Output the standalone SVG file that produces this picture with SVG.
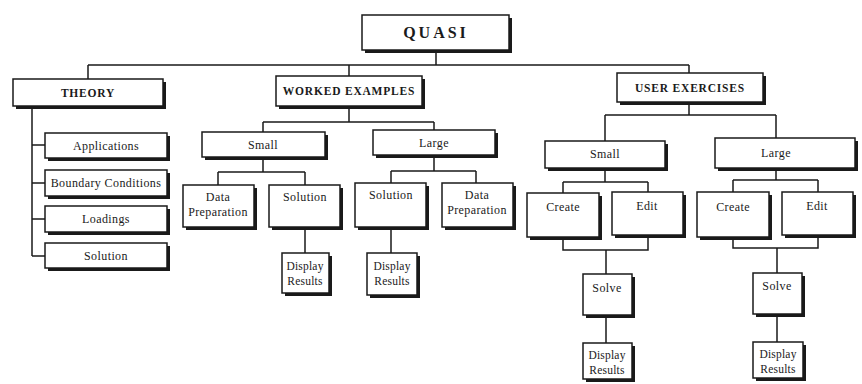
<svg xmlns="http://www.w3.org/2000/svg" width="862" height="384" viewBox="0 0 862 384">
<style>
.sh{fill:#1a1a1a}
.bx{fill:#fff;stroke:#1a1a1a;stroke-width:1.5}
.ln{fill:none;stroke:#1a1a1a;stroke-width:1.5}
text{font-family:"Liberation Serif","Times New Roman",serif;fill:#1a1a1a;text-anchor:middle}
.h{font-weight:bold;font-size:11.5px;letter-spacing:0.8px}
.t{font-size:12px;letter-spacing:0.4px}
.s{font-size:11.5px;letter-spacing:0.2px}
</style>
<rect width="862" height="384" fill="#fff"/>
<g id="connectors" class="ln">
<path d="M436 50V65M88 65H689M88 65V79M349 65V76M689 65V73"/>
<path d="M32 106V256M32 145H45M32 183H45M32 219H45M32 256H45"/>
<path d="M349 106V122M263 122H434M263 122V132M434 122V130"/>
<path d="M263 157V172M218 172H305M218 172V185M305 172V185M305 227V253"/>
<path d="M434 155V171M391 171H476M391 171V183M476 171V183M391 227V253"/>
<path d="M689 102V115M605 115H776M605 115V141M776 115V138"/>
<path d="M605 168V182M563 182H648M563 182V193M648 182V192M563 237V250H648V235M606 250V274M606 315V343"/>
<path d="M776 168V180M733 180H818M733 180V192M818 180V192M733 237V248H818V235M777 248V273M777 314V342"/>
</g>
<g id="quasi"><rect class="sh" x="365" y="18" width="147" height="35"/><rect class="bx" x="362" y="15" width="147" height="35"/><text x="436" y="38" style="font-weight:bold;font-size:16px;letter-spacing:3px">QUASI</text></g>
<g id="theory"><rect class="sh" x="16" y="82" width="150" height="27"/><rect class="bx" x="13" y="79" width="150" height="27"/><text class="h" x="88" y="97">THEORY</text></g>
<g id="worked"><rect class="sh" x="279" y="79" width="146" height="30"/><rect class="bx" x="276" y="76" width="146" height="30"/><text class="h" x="349" y="95">WORKED EXAMPLES</text></g>
<g id="user"><rect class="sh" x="620" y="76" width="146" height="29"/><rect class="bx" x="617" y="73" width="146" height="29"/><text class="h" x="690" y="92">USER EXERCISES</text></g>
<g id="applications"><rect class="sh" x="48" y="136" width="122" height="25"/><rect class="bx" x="45" y="133" width="122" height="25"/><text class="t" x="106" y="150">Applications</text></g>
<g id="boundary"><rect class="sh" x="48" y="173" width="122" height="26"/><rect class="bx" x="45" y="170" width="122" height="26"/><text class="t" x="106" y="187">Boundary Conditions</text></g>
<g id="loadings"><rect class="sh" x="48" y="209" width="122" height="26"/><rect class="bx" x="45" y="206" width="122" height="26"/><text class="t" x="106" y="223">Loadings</text></g>
<g id="theory-solution"><rect class="sh" x="48" y="246" width="122" height="25"/><rect class="bx" x="45" y="243" width="122" height="25"/><text class="t" x="106" y="260">Solution</text></g>
<g id="we-small"><rect class="sh" x="205" y="135" width="123" height="25"/><rect class="bx" x="202" y="132" width="123" height="25"/><text class="t" x="263" y="149">Small</text></g>
<g id="we-large"><rect class="sh" x="376" y="133" width="122" height="25"/><rect class="bx" x="373" y="130" width="122" height="25"/><text class="t" x="434" y="147">Large</text></g>
<g id="we-small-data"><rect class="sh" x="186" y="188" width="71" height="42"/><rect class="bx" x="183" y="185" width="71" height="42"/><text class="t" x="218" y="201">Data</text><text class="t" x="218" y="216">Preparation</text></g>
<g id="we-small-solution"><rect class="sh" x="272" y="188" width="71" height="42"/><rect class="bx" x="269" y="185" width="71" height="42"/><text class="t" x="305" y="201">Solution</text></g>
<g id="we-small-display"><rect class="sh" x="285" y="256" width="47" height="40"/><rect class="bx" x="282" y="253" width="47" height="40"/><text class="s" x="305" y="270">Display</text><text class="s" x="305" y="285">Results</text></g>
<g id="we-large-solution"><rect class="sh" x="358" y="186" width="71" height="44"/><rect class="bx" x="355" y="183" width="71" height="44"/><text class="t" x="391" y="199">Solution</text></g>
<g id="we-large-data"><rect class="sh" x="445" y="186" width="71" height="44"/><rect class="bx" x="442" y="183" width="71" height="44"/><text class="t" x="477" y="199">Data</text><text class="t" x="477" y="214">Preparation</text></g>
<g id="we-large-display"><rect class="sh" x="370" y="256" width="50" height="42"/><rect class="bx" x="367" y="253" width="50" height="42"/><text class="s" x="392" y="270">Display</text><text class="s" x="392" y="285">Results</text></g>
<g id="ue-small"><rect class="sh" x="548" y="144" width="120" height="27"/><rect class="bx" x="545" y="141" width="120" height="27"/><text class="t" x="605" y="158">Small</text></g>
<g id="ue-large"><rect class="sh" x="718" y="141" width="140" height="30"/><rect class="bx" x="715" y="138" width="140" height="30"/><text class="t" x="776" y="157">Large</text></g>
<g id="ue-small-create"><rect class="sh" x="530" y="196" width="72" height="44"/><rect class="bx" x="527" y="193" width="72" height="44"/><text class="t" x="563" y="211">Create</text></g>
<g id="ue-small-edit"><rect class="sh" x="615" y="195" width="71" height="43"/><rect class="bx" x="612" y="192" width="71" height="43"/><text class="t" x="647" y="210">Edit</text></g>
<g id="ue-small-solve"><rect class="sh" x="586" y="277" width="49" height="41"/><rect class="bx" x="583" y="274" width="49" height="41"/><text class="t" x="607" y="292">Solve</text></g>
<g id="ue-small-display"><rect class="sh" x="586" y="346" width="49" height="36"/><rect class="bx" x="583" y="343" width="49" height="36"/><text class="s" x="607" y="359">Display</text><text class="s" x="607" y="374">Results</text></g>
<g id="ue-large-create"><rect class="sh" x="700" y="195" width="72" height="45"/><rect class="bx" x="697" y="192" width="72" height="45"/><text class="t" x="733" y="211">Create</text></g>
<g id="ue-large-edit"><rect class="sh" x="785" y="195" width="71" height="43"/><rect class="bx" x="782" y="192" width="71" height="43"/><text class="t" x="817" y="210">Edit</text></g>
<g id="ue-large-solve"><rect class="sh" x="756" y="276" width="49" height="41"/><rect class="bx" x="753" y="273" width="49" height="41"/><text class="t" x="777" y="290">Solve</text></g>
<g id="ue-large-display"><rect class="sh" x="756" y="345" width="50" height="36"/><rect class="bx" x="753" y="342" width="50" height="36"/><text class="s" x="778" y="358">Display</text><text class="s" x="778" y="373">Results</text></g>
</svg>
